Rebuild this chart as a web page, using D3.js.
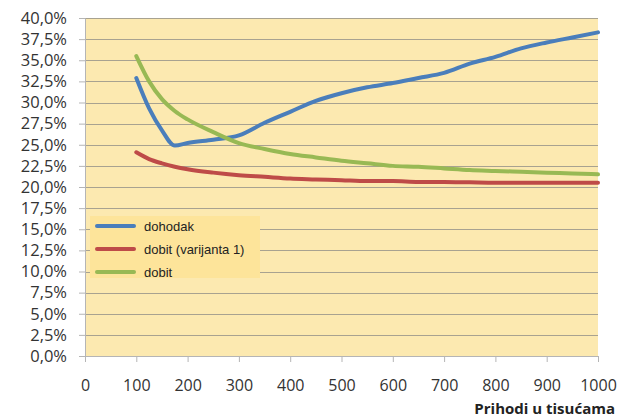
<!DOCTYPE html>
<html><head><meta charset="utf-8">
<script src="https://cdn.jsdelivr.net/npm/d3@7"></script>
<style>body{margin:0;background:#fff;} svg{display:block;}</style>
</head><body>
<svg id="c" width="621" height="417"></svg>
<script>
const incomes = [100,125,150,175,200,250,300,350,400,450,500,550,600,650,700,750,800,850,900,950,1000];
const dohodak = [32.9,29.3,26.7,24.9,25.2,25.6,26.1,27.6,28.9,30.2,31.1,31.8,32.3,32.9,33.5,34.6,35.4,36.4,37.1,37.7,38.3];
const dobitV1 = [24.1,23.3,22.8,22.4,22.1,21.7,21.4,21.2,21.0,20.9,20.8,20.7,20.7,20.6,20.6,20.55,20.5,20.5,20.5,20.5,20.5];
const dobit = [35.5,32.5,30.4,29.0,28.0,26.5,25.2,24.5,23.9,23.5,23.1,22.8,22.5,22.4,22.2,22.0,21.9,21.8,21.7,21.6,21.5];
const seriesNames = ["dohodak","dobit (varijanta 1)","dobit"];
const seriesColors = ["#4a7ebb","#be4b48","#98b954"];
const xTicks = [0,100,200,300,400,500,600,700,800,900,1000];
const yTicks = d3.range(0,40.01,2.5);
const xTitle = "Prihodi u tisućama";

const svg = d3.select("#c");
const L=85, R=598, T=18, B=356;
const x = d3.scaleLinear().domain([0,1000]).range([L,R]);
const y = d3.scaleLinear().domain([0,40]).range([B,T]);

svg.append("rect").attr("x",L).attr("y",T).attr("width",R-L).attr("height",B-T).attr("fill","#fce9b0");

svg.append("g").selectAll("line").data(yTicks.filter(d=>d>0)).join("line")
  .attr("x1",L).attr("x2",R).attr("y1",d=>Math.round(y(d))+0.5).attr("y2",d=>Math.round(y(d))+0.5)
  .attr("stroke","#a8a290").attr("stroke-width",1);

const fmt = d => d3.format(".1f")(d).replace(".",",")+"%";
const yAxis = svg.append("g").attr("transform",`translate(${L},0)`)
  .call(d3.axisLeft(y).tickValues(yTicks).tickFormat(fmt).tickSize(6).tickPadding(12));
yAxis.select(".domain").attr("stroke","#b5b5b5");
yAxis.selectAll(".tick line").attr("stroke","#b5b5b5");
yAxis.selectAll("text").attr("font-family","'Open Sans', sans-serif").attr("font-size","16.5px").attr("fill","#333");

const xAxis = svg.append("g").attr("transform",`translate(0,${B})`)
  .call(d3.axisBottom(x).tickValues(xTicks).tickFormat(d3.format("d")).tickSize(6).tickPadding(18));
xAxis.select(".domain").attr("stroke","#b5b5b5");
xAxis.selectAll(".tick line").attr("stroke","#b5b5b5");
xAxis.selectAll("text").attr("font-family","'Open Sans', sans-serif").attr("font-size","16px").attr("fill","#333");

svg.append("text").attr("x",615).attr("y",414).attr("text-anchor","end")
  .attr("font-family","'Open Sans', sans-serif").attr("font-weight","bold").attr("font-size","15px").attr("fill","#222")
  .text(xTitle);

const line = d3.line().x((d,i)=>x(incomes[i])).y(d=>y(d)).curve(d3.curveMonotoneX);
[dohodak,dobitV1,dobit].forEach((s,i)=>{
  svg.append("path").attr("d",line(s)).attr("fill","none").attr("stroke",seriesColors[i])
    .attr("stroke-width",4).attr("stroke-linejoin","round").attr("stroke-linecap","round");
});

const lg = svg.append("g");
lg.append("rect").attr("x",90).attr("y",216).attr("width",170).attr("height",62).attr("fill","#fde49a");
seriesNames.forEach((n,i)=>{
  const yy = 226 + i*23;
  lg.append("line").attr("x1",97).attr("x2",134).attr("y1",yy).attr("y2",yy)
    .attr("stroke",seriesColors[i]).attr("stroke-width",4).attr("stroke-linecap","round");
  lg.append("text").attr("x",144).attr("y",yy+4.5).attr("font-family","'Liberation Sans', Arial, sans-serif")
    .attr("font-size","13px").attr("fill","#222").text(n);
});
</script>
</body></html>
